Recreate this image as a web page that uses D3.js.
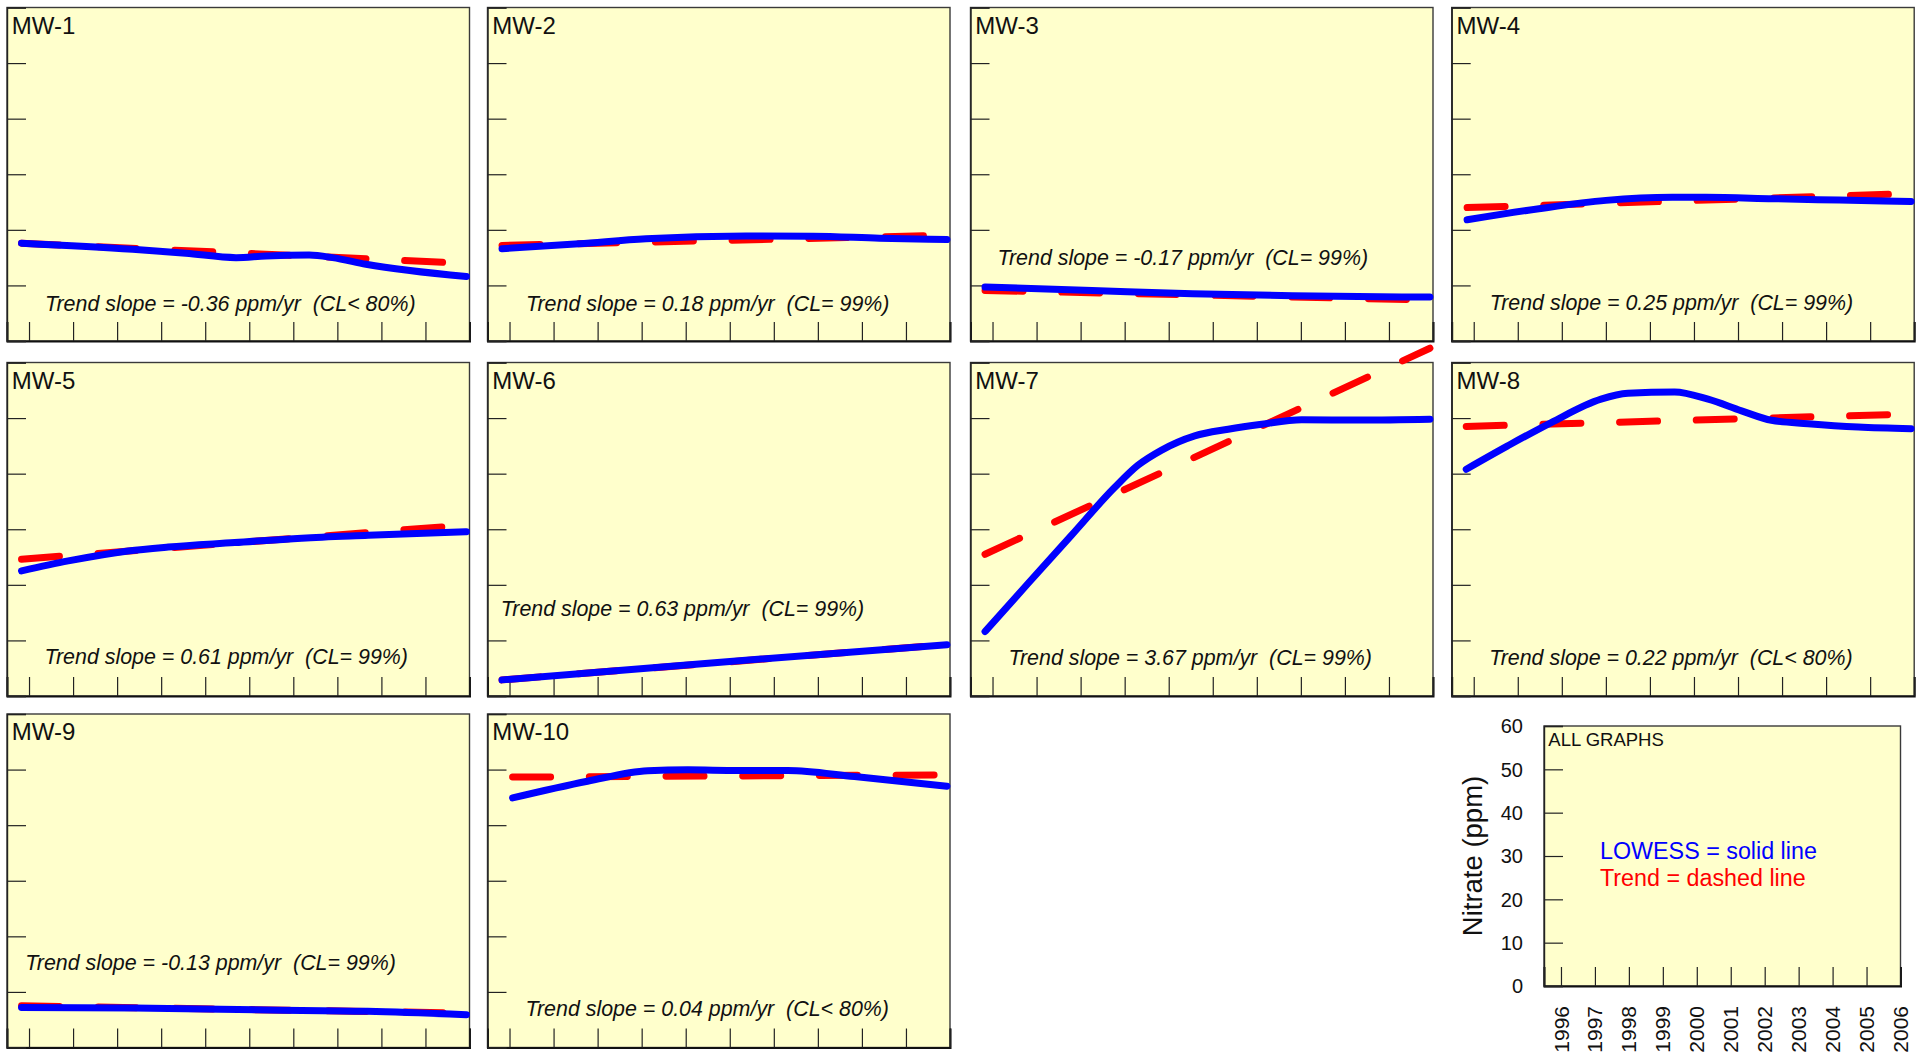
<!DOCTYPE html>
<html>
<head>
<meta charset="utf-8">
<script src="https://cdn.jsdelivr.net/npm/d3@7"></script>
<style>
  body { margin: 0; background: #ffffff; }
  text { font-family: "Liberation Sans", Arial, sans-serif; fill: #111; }
</style>
</head>
<body>
<svg id="chart" width="1923" height="1052"></svg>
<script>
// ---- data -------------------------------------------------------------
const wells = ["MW-1", "MW-2", "MW-3", "MW-4", "MW-5", "MW-6", "MW-7", "MW-8", "MW-9", "MW-10"];
const trendSlopes = [-0.36, 0.18, -0.17, 0.25, 0.61, 0.63, 3.67, 0.22, -0.13, 0.04];   // ppm/yr
const confidence = ["CL< 80%", "CL= 99%", "CL= 99%", "CL= 99%", "CL= 99%",
                    "CL= 99%", "CL= 99%", "CL< 80%", "CL= 99%", "CL< 80%"];
const trendStartValue = [17.6, 17.2, 9.1, 24.0, 24.6, 2.9, 25.5, 48.5, 7.5, 48.65];  // ppm at first sample
const firstSampleYear = [1995.83, 1995.83, 1995.83, 1995.85, 1995.83, 1995.83, 1995.83, 1995.83, 1995.83, 1996.07];
const lastSampleYear = 2005.93;

// LOWESS smooths, [decimal year, nitrate ppm]
const lowessMW1 = [[1995.83, 17.6], [1998.35, 16.5], [1999.56, 15.8], [2000.70, 15.0], [2001.38, 15.3],
                   [2002.36, 15.45], [2002.89, 15.0], [2003.65, 13.8], [2005.93, 11.6]];
const lowessMW2 = [[1995.83, 16.6], [1997.58, 17.5], [1999.10, 18.4], [2001.37, 18.9], [2002.89, 18.85],
                   [2004.40, 18.5], [2005.93, 18.25]];
const lowessMW3 = [[1995.83, 9.7], [1998.26, 9.1], [2000.54, 8.5], [2002.81, 8.15], [2005.93, 7.9]];
const lowessMW4 = [[1995.85, 21.8], [1997.48, 23.8], [1999.00, 25.3], [2000.51, 25.85], [2001.27, 25.85],
                   [2002.79, 25.6], [2004.30, 25.35], [2005.93, 25.1]];
const lowessMW5 = [[1995.83, 22.5], [1996.89, 24.3], [1998.25, 26.1], [1999.16, 26.8], [2000.67, 27.6],
                   [2002.19, 28.4], [2003.70, 28.9], [2005.93, 29.55]];
const lowessMW6 = [[1995.83, 2.9], [2000.65, 6.0], [2005.93, 9.2]];
const lowessMW7 = [[1995.83, 11.6], [1996.80, 20.2], [1997.79, 28.9], [1998.77, 37.5], [1999.30, 41.5],
                   [1999.83, 44.2], [2000.59, 46.8], [2001.35, 48.0], [2002.11, 48.9], [2003.02, 49.7],
                   [2004.38, 49.65], [2005.93, 49.8]];
const lowessMW8 = [[1995.83, 40.8], [1996.77, 45.0], [1997.76, 49.2], [1998.89, 53.4], [1999.50, 54.45],
                   [2000.56, 54.7], [2001.32, 53.4], [2002.08, 51.3], [2002.76, 49.6], [2003.59, 49.0],
                   [2004.73, 48.4], [2005.93, 48.1]];
const lowessMW9 = [[1995.83, 7.2], [1998.38, 7.1], [2001.41, 6.75], [2003.68, 6.5], [2005.93, 5.9]];
const lowessMW10 = [[1996.07, 44.9], [1997.77, 47.9], [1999.14, 49.8], [2000.05, 49.95], [2001.18, 49.85],
                    [2002.32, 49.85], [2003.83, 48.75], [2005.93, 47.0]];
const lowessSeries = [lowessMW1, lowessMW2, lowessMW3, lowessMW4, lowessMW5,
                      lowessMW6, lowessMW7, lowessMW8, lowessMW9, lowessMW10];

const yearTicks = [1996, 1997, 1998, 1999, 2000, 2001, 2002, 2003, 2004, 2005, 2006];
const nitrateTicks = [0, 10, 20, 30, 40, 50, 60];

// ---- layout -----------------------------------------------------------
const colLeft = [7, 487.5, 970.5, 1451.7];
const rowTop = [7.5, 362.5, 714];
const panelW = 462.5, panelH = 333.5;
// where each panel's trend note sits (x offset, baseline offset)
const noteOffsets = [[38, 303], [38.5, 303], [27, 257], [38, 302], [37.5, 301],
                     [13.3, 253], [38, 302], [37.5, 302], [18.3, 256], [38, 302]];

const svg = d3.select("#chart");
const BG = "#FFFFCC", BLUE = "#0000FF", RED = "#FF0000";

function panelFrame(g, w, h) {
  const x = d3.scaleLinear().domain([1995.5, 2006]).range([0, w]);
  const y = d3.scaleLinear().domain([0, 60]).range([h, 0]);
  g.append("rect").attr("width", w).attr("height", h)
    .attr("fill", BG).attr("stroke", "#3a3a3a").attr("stroke-width", 1.4);

  const xa = g.append("g").attr("transform", `translate(0,${h})`)
    .call(d3.axisTop(x).tickValues(yearTicks).tickSize(19).tickFormat(""));
  xa.select(".domain").attr("stroke", "#111").attr("stroke-width", 2);
  xa.selectAll(".tick line").attr("stroke", "#222").attr("stroke-width", 1.2);

  const ya = g.append("g")
    .call(d3.axisRight(y).tickValues(nitrateTicks).tickSize(19).tickFormat(""));
  ya.select(".domain").attr("stroke", "#222").attr("stroke-width", 1.4);
  ya.selectAll(".tick line").attr("stroke", "#222").attr("stroke-width", 1.2);
  return { x, y };
}

wells.forEach((name, i) => {
  const col = i % 4, row = Math.floor(i / 4);
  const g = svg.append("g").attr("transform", `translate(${colLeft[col]},${rowTop[row]})`);
  const { x, y } = panelFrame(g, panelW, panelH);
  const line = d3.line().x(d => x(d[0])).y(d => y(d[1]));

  // trend line from the stated slope
  const t0 = firstSampleYear[i];
  const trend = [[t0, trendStartValue[i]],
                 [lastSampleYear, trendStartValue[i] + trendSlopes[i] * (lastSampleYear - t0)]];
  g.append("path").datum(trend).attr("d", line)
    .attr("fill", "none").attr("stroke", RED).attr("stroke-width", 7)
    .attr("stroke-linecap", "round").attr("stroke-dasharray", "38 38.7");

  // LOWESS smooth
  g.append("path").datum(lowessSeries[i]).attr("d", line.curve(d3.curveMonotoneX))
    .attr("fill", "none").attr("stroke", BLUE).attr("stroke-width", 7)
    .attr("stroke-linecap", "round").attr("stroke-linejoin", "round");

  g.append("text").attr("x", 4.8).attr("y", 26).attr("font-size", 24).text(name);

  const s = trendSlopes[i].toFixed(2);
  g.append("text").attr("x", noteOffsets[i][0]).attr("y", noteOffsets[i][1])
    .attr("font-size", 21.4).attr("font-style", "italic").style("white-space", "pre")
    .text(`Trend slope = ${s} ppm/yr  (${confidence[i]})`);
});

// ---- key panel with the shared axes ------------------------------------
const key = { left: 1544, top: 726, w: 356.5, h: 260 };
const kg = svg.append("g").attr("transform", `translate(${key.left},${key.top})`);
const ks = panelFrame(kg, key.w, key.h);

kg.selectAll(".ylab").data(nitrateTicks).join("text")
  .attr("class", "ylab").attr("x", -21).attr("y", d => ks.y(d)).attr("dy", "0.36em")
  .attr("text-anchor", "end").attr("font-size", 20).text(d => d);

kg.selectAll(".xlab").data(yearTicks).join("text")
  .attr("class", "xlab").attr("text-anchor", "end").attr("font-size", 21).attr("dy", "0.36em")
  .attr("transform", d => `translate(${ks.x(d)},${key.h + 20}) rotate(-90)`)
  .text(d => d);

kg.append("text").attr("x", 4.3).attr("y", 19.7).attr("font-size", 18.5).text("ALL GRAPHS");
kg.append("text").attr("x", 56).attr("y", 133.3).attr("font-size", 23.3)
  .style("fill", BLUE).text("LOWESS = solid line");
kg.append("text").attr("x", 56).attr("y", 159.7).attr("font-size", 23.3)
  .style("fill", RED).text("Trend = dashed line");

svg.append("text")
  .attr("transform", `translate(1482,${key.top + key.h / 2}) rotate(-90)`)
  .attr("text-anchor", "middle").attr("font-size", 27.5).text("Nitrate (ppm)");
</script>
</body>
</html>
